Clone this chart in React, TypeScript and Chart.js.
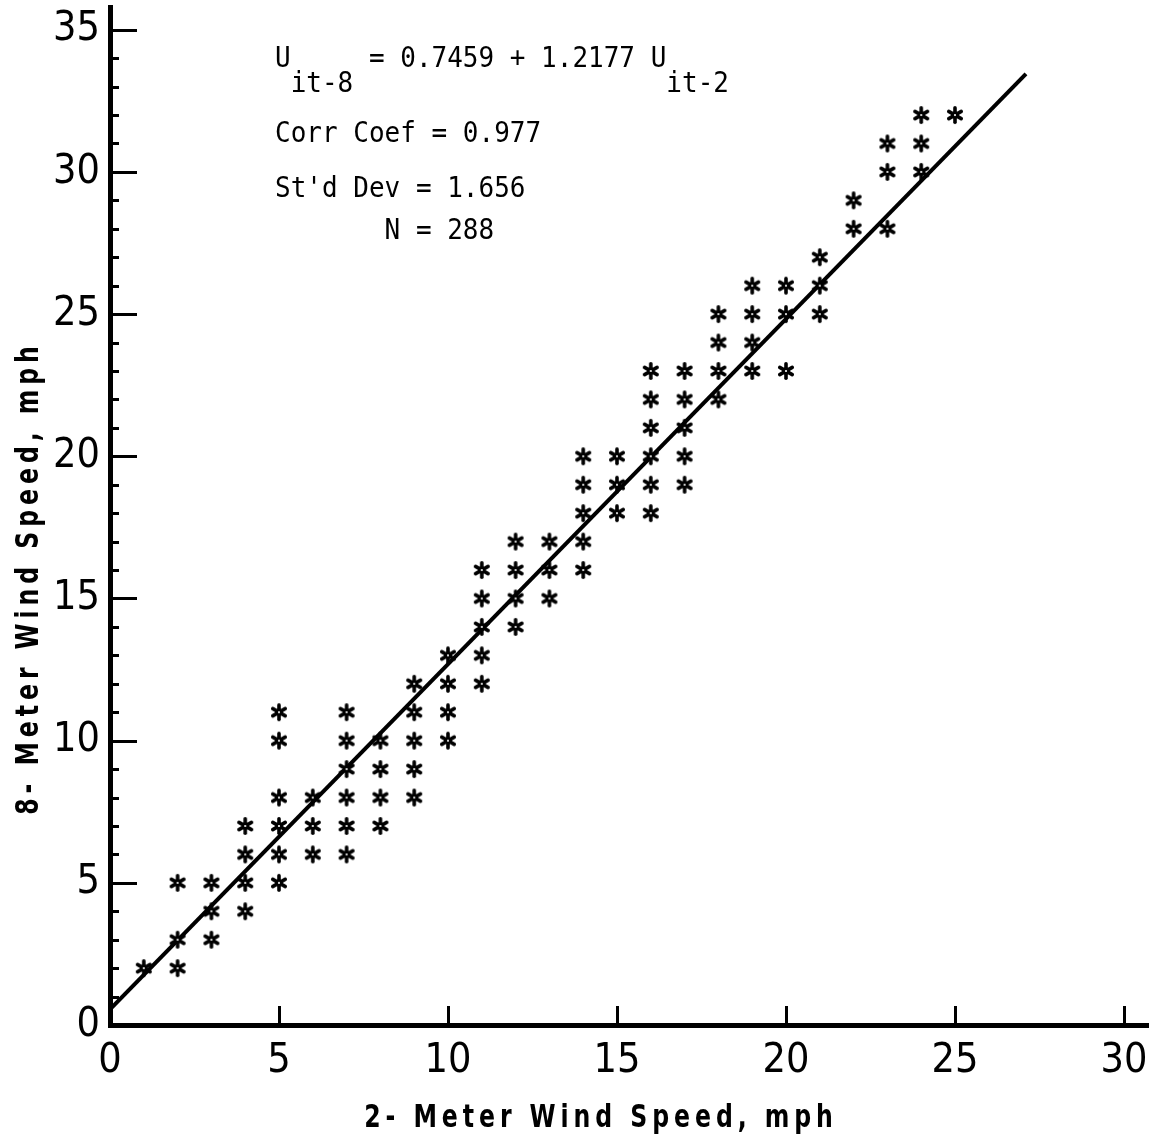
import React, { useEffect, useRef } from "react";
import { Chart, registerables } from "chart.js";

Chart.register(...registerables);

// 2-meter wind speed (x) and 8-meter wind speed (y), mph
const speed2m = [
  1,
  2, 2, 2,
  3, 3, 3,
  4, 4, 4, 4,
  5, 5, 5, 5, 5, 5,
  6, 6, 6,
  7, 7, 7, 7, 7, 7,
  8, 8, 8, 8,
  9, 9, 9, 9, 9,
  10, 10, 10, 10,
  11, 11, 11, 11, 11,
  12, 12, 12, 12,
  13, 13, 13,
  14, 14, 14, 14, 14,
  15, 15, 15,
  16, 16, 16, 16, 16, 16,
  17, 17, 17, 17, 17,
  18, 18, 18, 18,
  19, 19, 19, 19,
  20, 20, 20,
  21, 21, 21,
  22, 22,
  23, 23, 23,
  24, 24, 24,
  25,
];
const speed8m = [
  2,
  5, 3, 2,
  5, 4, 3,
  7, 6, 5, 4,
  11, 10, 8, 7, 6, 5,
  8, 7, 6,
  11, 10, 9, 8, 7, 6,
  10, 9, 8, 7,
  12, 11, 10, 9, 8,
  13, 12, 11, 10,
  16, 15, 14, 13, 12,
  17, 16, 15, 14,
  17, 16, 15,
  20, 19, 18, 17, 16,
  20, 19, 18,
  23, 22, 21, 20, 19, 18,
  23, 22, 21, 20, 19,
  25, 24, 23, 22,
  26, 25, 24, 23,
  26, 25, 23,
  27, 26, 25,
  29, 28,
  31, 30, 28,
  32, 31, 30,
  32,
];

// regression line end points as drawn
const fitLineX = [0, 27.1];
const fitLineY = [0.55, 33.45];

const xTickValues = [0, 5, 10, 15, 20, 25, 30];
const yTickValues = [0, 5, 10, 15, 20, 25, 30, 35];

const xAxisTitle = "2- Meter Wind Speed, mph";
const yAxisTitle = "8- Meter Wind Speed, mph";

const eqLeft = "U";
const eqLeftSub = "it-8";
const eqRight = " = 0.7459 + 1.2177 U";
const eqRightSub = "it-2";
const statLines = ["Corr Coef = 0.977", "St'd Dev = 1.656", "       N = 288"];

const NARROW = "'Liberation Sans Narrow', 'DejaVu Sans Condensed', 'Roboto Condensed', Roboto, sans-serif";
const MONO = "'DejaVu Sans Mono', 'Liberation Mono', monospace";

function makeStar(): HTMLCanvasElement {
  const c = document.createElement("canvas");
  c.width = 20;
  c.height = 20;
  const g = c.getContext("2d")!;
  g.strokeStyle = "#000";
  g.lineWidth = 3.6;
  g.lineCap = "round";
  const r = 7.2;
  for (let k = 0; k < 3; k++) {
    const a = Math.PI / 2 + (k * Math.PI) / 3;
    g.beginPath();
    g.moveTo(10 + r * Math.cos(a), 10 + r * Math.sin(a));
    g.lineTo(10 - r * Math.cos(a), 10 - r * Math.sin(a));
    g.stroke();
  }
  g.fillStyle = "#000";
  g.beginPath();
  g.arc(10, 10, 3.8, 0, Math.PI * 2);
  g.fill();
  g.fillStyle = "#fff";
  g.beginPath();
  g.arc(10, 10, 1.1, 0, Math.PI * 2);
  g.fill();
  return c;
}

const decorPlugin = {
  id: "decor",
  afterDraw(chart: any) {
    const { ctx, chartArea, scales } = chart;
    const x = scales.x;
    const y = scales.y;
    ctx.save();
    ctx.strokeStyle = "#000";
    ctx.fillStyle = "#000";
    ctx.lineWidth = 3;
    // inward minor/major ticks on y axis
    for (let v = 1; v <= 35; v++) {
      const py = Math.round(y.getPixelForValue(v)) + 0.5;
      const len = v % 5 === 0 ? 27 : 9;
      ctx.beginPath();
      ctx.moveTo(chartArea.left, py);
      ctx.lineTo(chartArea.left + len, py);
      ctx.stroke();
    }
    // inward ticks on x axis
    for (const v of xTickValues) {
      if (v === 0) continue;
      const px = Math.round(x.getPixelForValue(v)) + 0.5;
      ctx.beginPath();
      ctx.moveTo(px, chartArea.bottom);
      ctx.lineTo(px, chartArea.bottom - 19);
      ctx.stroke();
    }

    // axis titles (condensed lettering)
    ctx.font = `bold 32px ${NARROW}`;
    (ctx as any).letterSpacing = "6px";
    ctx.textAlign = "center";
    ctx.textBaseline = "alphabetic";
    ctx.save();
    ctx.translate(601, 1127);
    ctx.scale(0.82, 1);
    ctx.fillText(xAxisTitle, 0, 0);
    ctx.restore();
    ctx.save();
    ctx.translate(38, 578);
    ctx.rotate(-Math.PI / 2);
    ctx.scale(0.82, 1);
    ctx.fillText(yAxisTitle, 0, 0);
    ctx.restore();
    (ctx as any).letterSpacing = "0px";

    // annotation (typewriter)
    ctx.font = `26px ${MONO}`;
    ctx.textAlign = "left";
    const cw = ctx.measureText("0").width;
    const put = (t: string, px: number, py: number) => {
      ctx.save();
      ctx.translate(px, py);
      ctx.scale(1, 1.12);
      ctx.fillText(t, 0, 0);
      ctx.restore();
    };
    const x0 = 275;
    put(eqLeft, x0, 67);
    put(eqLeftSub, x0 + cw, 92);
    put(eqRight, x0 + 5 * cw, 67);
    put(eqRightSub, x0 + 25 * cw, 92);
    put(statLines[0], x0, 142);
    put(statLines[1], x0, 197);
    put(statLines[2], x0, 239);
    ctx.restore();
  },
};

export default function App() {
  const ref = useRef<HTMLCanvasElement | null>(null);
  useEffect(() => {
    const canvas = ref.current!;
    const star = makeStar();
    const points = speed2m.map((v, i) => ({ x: v, y: speed8m[i] }));
    const fit = fitLineX.map((v, i) => ({ x: v, y: fitLineY[i] }));
    const tickFont = { family: NARROW, size: 41, weight: "normal" as const };
    const chart = new Chart(canvas, {
      type: "scatter",
      data: {
        datasets: [
          {
            label: "observations",
            data: points,
            pointStyle: star as any,
            pointRadius: 8,
            showLine: false,
          },
          {
            label: "fit",
            data: fit,
            showLine: true,
            borderColor: "#000",
            borderWidth: 4,
            pointRadius: 0,
            fill: false,
          },
        ],
      },
      options: {
        responsive: false,
        animation: false,
        events: [],
        layout: { autoPadding: false, padding: { top: 7, left: 0, right: 0, bottom: 0 } },
        plugins: { legend: { display: false }, tooltip: { enabled: false } },
        scales: {
          x: {
            type: "linear",
            min: 0,
            max: 30.74,
            grid: { display: false, drawTicks: false },
            border: { display: true, color: "#000", width: 5 },
            afterBuildTicks: (s: any) => {
              s.ticks = xTickValues.map((v) => ({ value: v }));
            },
            ticks: { color: "#000", font: tickFont, padding: 12, maxRotation: 0, autoSkip: false },
            afterFit: (s: any) => {
              s.height = 114;
              s.paddingLeft = 0;
              s.paddingRight = 0;
            },
          },
          y: {
            type: "linear",
            min: 0,
            max: 35.8,
            grid: { display: false, drawTicks: false },
            border: { display: true, color: "#000", width: 5 },
            afterBuildTicks: (s: any) => {
              s.ticks = yTickValues.map((v) => ({ value: v }));
            },
            ticks: { color: "#000", font: tickFont, padding: 10, autoSkip: false },
            afterFit: (s: any) => {
              s.width = 110;
              s.paddingTop = 0;
              s.paddingBottom = 0;
            },
          },
        },
      },
      plugins: [decorPlugin],
    });
    return () => chart.destroy();
  }, []);
  return (
    <div style={{ position: "absolute", left: 0, top: 0, width: 1149, height: 1139, background: "#fff" }}>
      <canvas ref={ref} width={1149} height={1139} style={{ display: "block" }} />
    </div>
  );
}
